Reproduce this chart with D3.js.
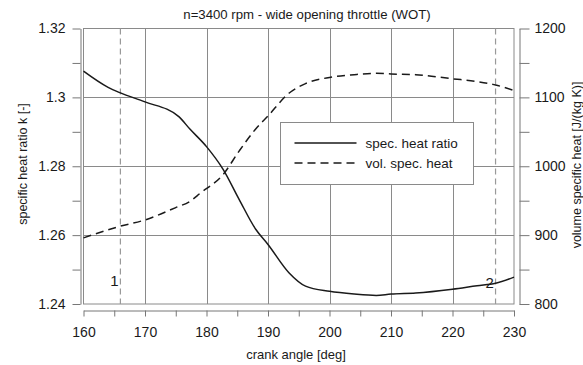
<!DOCTYPE html>
<html>
<head>
<meta charset="utf-8">
<script src="https://cdn.jsdelivr.net/npm/d3@7"></script>
<style>
  body { margin: 0; background: #fff; }
  text { font-family: "Liberation Sans", Arial, sans-serif; fill: #1a1a1a; }
</style>
</head>
<body>
<svg id="chart" width="583" height="365"></svg>
<script>
// spec. heat ratio k (left axis)
const kAngle = [160, 164, 166, 170, 175.5, 177.3, 180, 182.7, 185.3, 188, 190, 193.4, 196.1, 200, 204, 207.6, 210, 214, 220, 224, 227, 230];
const kValue = [1.3076, 1.3029, 1.3013, 1.2987, 1.2944, 1.2908, 1.2857, 1.2791, 1.2704, 1.2617, 1.2573, 1.2491, 1.2452, 1.2437, 1.2429, 1.2425, 1.2429, 1.2432, 1.2443, 1.2453, 1.246, 1.2478];

// vol. spec. heat (right axis)
const cvAngle = [160, 166, 170, 175, 177.3, 179, 182.7, 185.3, 188, 190, 193.4, 196.1, 200, 204, 207.6, 210, 214, 220, 224, 227, 230];
const cvValue = [896, 913, 922, 940, 949, 961, 988, 1022, 1054, 1073, 1106, 1120, 1129, 1133, 1135, 1134, 1133, 1127, 1123, 1118, 1110];

const markers = [{ angle: 166, label: '1' }, { angle: 227, label: '2' }];
const legendLabels = ['spec. heat ratio', 'vol. spec. heat'];

const title = 'n=3400 rpm - wide opening throttle (WOT)';
const xTitle = 'crank angle [deg]';
const yLeftTitle = 'specific heat ratio k [-]';
const yRightTitle = 'volume specific heat [J/(kg K)]';

const svg = d3.select('#chart');
const plotLeft = 83.5, plotRight = 514, plotTop = 28.5, plotBottom = 304;

const x = d3.scaleLinear().domain([160, 230]).range([plotLeft, plotRight]);
const yK = d3.scaleLinear().domain([1.24, 1.32]).range([plotBottom, plotTop]);
const yCv = d3.scaleLinear().domain([800, 1200]).range([plotBottom, plotTop]);

const gridColor = '#8a8a8a';

// grid
const grid = svg.append('g').attr('stroke', gridColor).attr('stroke-width', 1);
grid.selectAll('line.v')
  .data(d3.range(170, 230, 10))
  .join('line')
  .attr('x1', d => Math.round(x(d)) + 0.5).attr('x2', d => Math.round(x(d)) + 0.5)
  .attr('y1', plotTop).attr('y2', plotBottom);
grid.selectAll('line.h')
  .data([1.26, 1.28, 1.30])
  .join('line')
  .attr('x1', plotLeft).attr('x2', plotRight)
  .attr('y1', d => Math.round(yK(d)) + 0.5).attr('y2', d => Math.round(yK(d)) + 0.5);
svg.append('rect')
  .attr('x', plotLeft).attr('y', plotTop)
  .attr('width', plotRight - plotLeft).attr('height', plotBottom - plotTop)
  .attr('fill', 'none').attr('stroke', gridColor);

// marker lines 1 and 2
markers.forEach(m => {
  svg.append('line')
    .attr('x1', x(m.angle)).attr('x2', x(m.angle))
    .attr('y1', plotTop).attr('y2', plotBottom)
    .attr('stroke', '#999').attr('stroke-width', 1.2)
    .attr('stroke-dasharray', '6,4');
});
svg.append('text').attr('x', x(166) - 6).attr('y', 286)
  .attr('text-anchor', 'middle').attr('font-size', 15).text(markers[0].label);
svg.append('text').attr('x', x(227) - 6).attr('y', 288)
  .attr('text-anchor', 'middle').attr('font-size', 15).text(markers[1].label);

// axes
function styleAxis(g) {
  g.selectAll('.domain, .tick line').attr('stroke', '#777');
  g.selectAll('.tick text').attr('font-size', 14).attr('fill', '#1a1a1a')
    .attr('font-family', '"Liberation Sans", Arial, sans-serif');
}

svg.append('g')
  .attr('transform', 'translate(80.5,0)')
  .call(d3.axisLeft(yK)
    .tickValues(d3.range(0, 9).map(i => 1.24 + i * 0.01))
    .tickSize(8).tickSizeOuter(0).tickPadding(7)
    .tickFormat((d, i) => i % 2 === 0 ? String(+d.toFixed(2)) : ''))
  .call(styleAxis);

svg.append('g')
  .attr('transform', 'translate(519.5,0)')
  .call(d3.axisRight(yCv)
    .tickValues(d3.range(800, 1201, 50))
    .tickSize(10).tickSizeOuter(0).tickPadding(5)
    .tickFormat(d => d % 100 === 0 ? d : ''))
  .call(styleAxis);

svg.append('g')
  .attr('transform', 'translate(0,310.5)')
  .call(d3.axisBottom(x)
    .tickValues(d3.range(160, 231, 5))
    .tickSize(6).tickSizeOuter(0).tickPadding(11)
    .tickFormat(d => d % 10 === 0 ? d : ''))
  .call(styleAxis);

// curves
const kLine = d3.line()
  .x((d, i) => x(kAngle[i]))
  .y(d => yK(d))
  .curve(d3.curveMonotoneX);
const cvLine = d3.line()
  .x((d, i) => x(cvAngle[i]))
  .y(d => yCv(d))
  .curve(d3.curveMonotoneX);

svg.append('path').datum(kValue)
  .attr('d', kLine).attr('fill', 'none')
  .attr('stroke', '#1a1a1a').attr('stroke-width', 1.5);
svg.append('path').datum(cvValue)
  .attr('d', cvLine).attr('fill', 'none')
  .attr('stroke', '#1a1a1a').attr('stroke-width', 1.5)
  .attr('stroke-dasharray', '8,5');

// legend
const legend = svg.append('g').attr('transform', 'translate(280.5,122.5)');
legend.append('rect')
  .attr('width', 193).attr('height', 62)
  .attr('fill', '#fff').attr('stroke', gridColor);
legendLabels.forEach((label, i) => {
  const yy = 20.5 + i * 20;
  legend.append('line')
    .attr('x1', 14).attr('x2', 76).attr('y1', yy).attr('y2', yy)
    .attr('stroke', '#1a1a1a').attr('stroke-width', 1.5)
    .attr('stroke-dasharray', i === 1 ? '8,5' : null);
  legend.append('text')
    .attr('x', 85).attr('y', yy).attr('dy', '0.35em')
    .attr('font-size', 13.5).text(label);
});

// titles
svg.append('text').attr('x', 307).attr('y', 19)
  .attr('text-anchor', 'middle').attr('font-size', 13.2).text(title);
svg.append('text').attr('x', 296).attr('y', 359)
  .attr('text-anchor', 'middle').attr('font-size', 13).text(xTitle);
svg.append('text')
  .attr('transform', 'translate(27,164) rotate(-90)')
  .attr('text-anchor', 'middle').attr('font-size', 12.5).text(yLeftTitle);
svg.append('text')
  .attr('transform', 'translate(581,165) rotate(-90)')
  .attr('text-anchor', 'middle').attr('font-size', 12.5).text(yRightTitle);
</script>
</body>
</html>
